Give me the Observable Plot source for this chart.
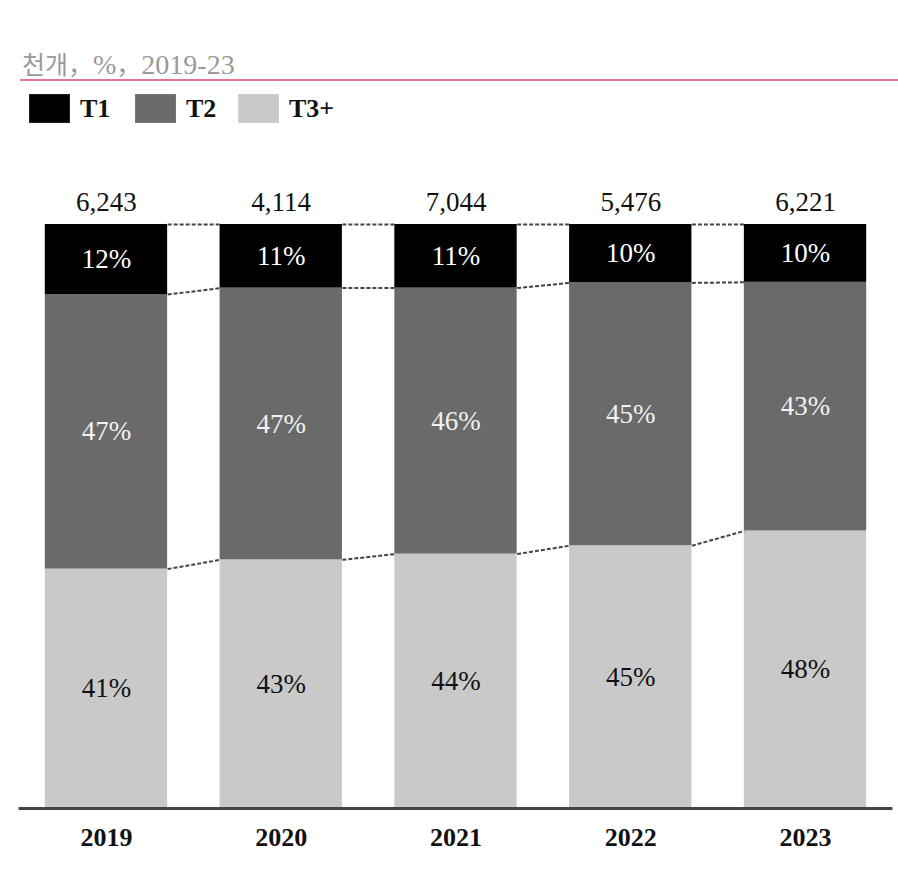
<!DOCTYPE html>
<html><head><meta charset="utf-8">
<script src="https://cdn.jsdelivr.net/npm/d3@7"></script>
<script src="https://cdn.jsdelivr.net/npm/@observablehq/plot@0.6"></script>
<style>
body{margin:0;background:#fff;width:898px;height:877px;overflow:hidden;position:relative;font-family:"Liberation Serif",serif;}
#title{position:absolute;left:22px;top:45px;font-size:28px;color:#9a9a9a;font-family:"Liberation Serif",serif;white-space:nowrap;}
#title .ko{font-family:"Noto Sans CJK KR",sans-serif;font-size:25px;}
#rule{position:absolute;left:20px;right:0;top:79px;height:2px;background:#e5768b;}
.sw{position:absolute;top:94px;width:41px;height:29px;box-sizing:border-box;}
.lt{position:absolute;top:94px;font-size:26px;font-weight:bold;color:#111;line-height:29px;}
#chart{position:absolute;left:0;top:140px;}
#chart svg text{font-family:"Liberation Serif",serif !important;}
</style></head>
<body>
<div id="title"><span class="ko">천개，</span>%<span class="ko">，</span>2019-23</div>
<div id="rule"></div>
<div id="legend"></div>
<div id="chart"></div>
<script>
const years = [2019, 2020, 2021, 2022, 2023];
const totals = [6243, 4114, 7044, 5476, 6221];
const tiers = ["T1", "T2", "T3+"];
const t1 = [12, 11, 11, 10, 10];
const t2 = [47, 47, 46, 45, 43];
const t3 = [41, 43, 44, 45, 48];
const tierColors = ["#000000", "#6a6a6a", "#c9c9c9"];
const labelColors = ["#ffffff", "#f2f2f2", "#111111"];

// legend
const legendX = [29, 135, 238];
const leg = document.getElementById("legend");
tiers.forEach((t, i) => {
  const s = document.createElement("div");
  s.className = "sw"; s.style.left = legendX[i] + "px"; s.style.background = tierColors[i];
  s.style.border = "1px solid " + (i === 0 ? "#222" : i === 1 ? "#777" : "#cfcfcf");
  leg.appendChild(s);
  const l = document.createElement("div");
  l.className = "lt"; l.style.left = (legendX[i] + 51) + "px"; l.textContent = t;
  leg.appendChild(l);
});

// stacked (normalized) segments: T3+ bottom, T2 middle, T1 top
const half = 0.35;
const segs = [];
const bounds = []; // per year: [top, T1/T2, T2/T3]
years.forEach((yr, i) => {
  const sum = t1[i] + t2[i] + t3[i];
  const b3 = t3[i] / sum, b2 = (t3[i] + t2[i]) / sum;
  segs.push({year: yr, tier: "T3+", k: 2, y1: 0, y2: b3, v: t3[i]});
  segs.push({year: yr, tier: "T2", k: 1, y1: b3, y2: b2, v: t2[i]});
  segs.push({year: yr, tier: "T1", k: 0, y1: b2, y2: 1, v: t1[i]});
  bounds.push([1, b2, b3]);
});
const links = [];
for (let i = 0; i < years.length - 1; i++) {
  for (let j = 0; j < 3; j++) {
    links.push({x1: years[i] + half, y1: bounds[i][j], x2: years[i + 1] - half, y2: bounds[i + 1][j]});
  }
}
const fmt = d3.format(",");
const FF = "Liberation Serif";

const chart = Plot.plot({
  width: 898, height: 737,
  marginLeft: 18.6, marginRight: 5.6, marginTop: 84, marginBottom: 69,
  x: {domain: [2018.5, 2023.5], axis: null},
  y: {domain: [0, 1], axis: null},
  style: {fontFamily: FF, background: "#fff"},
  marks: [
    Plot.rect(segs, {x1: d => d.year - half, x2: d => d.year + half, y1: "y1", y2: "y2", fill: d => tierColors[d.k]}),
    Plot.link(links, {x1: "x1", y1: "y1", x2: "x2", y2: "y2", stroke: "#444", strokeWidth: 2, strokeDasharray: "4,2"}),
    Plot.text(segs, {x: "year", y: d => (d.y1 + d.y2) / 2, text: d => d.v + "%", fill: d => labelColors[d.k], fontSize: 27, fontFamily: FF}),
    Plot.text(years, {x: d => d, y: 1, dy: -22, text: (d, i) => fmt(totals[i]), fill: "#111", fontSize: 27, fontFamily: FF}),
    Plot.ruleY([0], {stroke: "#444", strokeWidth: 3}),
    Plot.text(years, {x: d => d, y: 0, dy: 29, text: d => String(d), fill: "#111", fontSize: 26, fontWeight: "bold", fontFamily: FF})
  ]
});
document.getElementById("chart").appendChild(chart);
</script>
</body></html>
